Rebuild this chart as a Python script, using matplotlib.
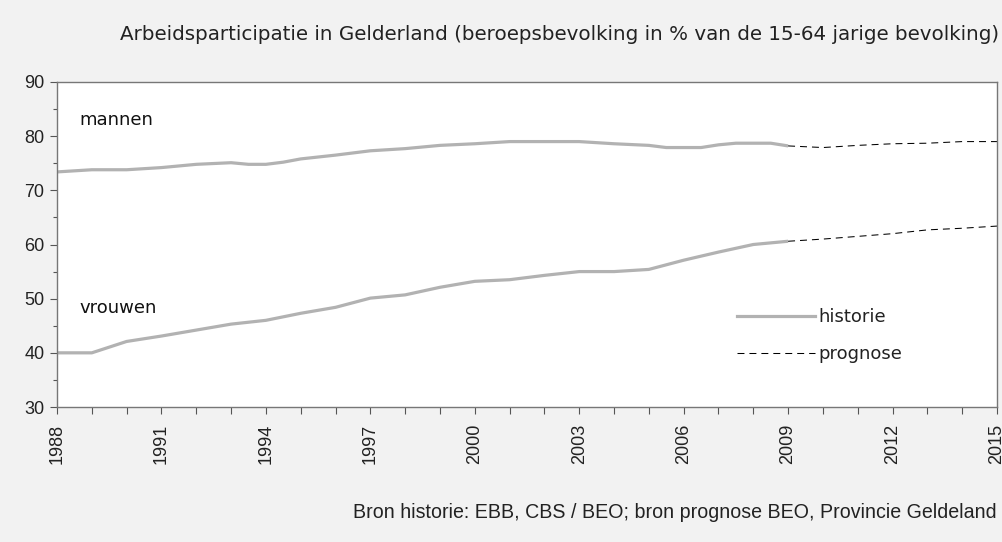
import matplotlib.pyplot as plt
from matplotlib.ticker import FixedLocator, MultipleLocator
from matplotlib.lines import Line2D

plt.rcParams['font.family'] = ['Liberation Sans', 'DejaVu Sans']
plt.rcParams['lines.scale_dashes'] = False

# historie mannen (some half-year points to follow the curve)
men_years = [1988, 1989, 1990, 1991, 1992, 1993, 1993.5, 1994, 1994.5, 1995, 1996,
             1997, 1998, 1999, 2000, 2001, 2002, 2003, 2004, 2005, 2005.5, 2006,
             2006.5, 2007, 2007.5, 2008, 2008.5, 2009]
men_hist = [73.4, 73.8, 73.8, 74.2, 74.8, 75.1, 74.8, 74.8, 75.2, 75.8, 76.5,
            77.3, 77.7, 78.3, 78.6, 79.0, 79.0, 79.0, 78.6, 78.3, 77.9, 77.9,
            77.9, 78.4, 78.7, 78.7, 78.7, 78.2]

women_years = list(range(1988, 2010))
women_hist = [40.0, 40.0, 42.1, 43.1, 44.2, 45.3, 46.0, 47.3, 48.4, 50.1, 50.7,
              52.1, 53.2, 53.5, 54.3, 55.0, 55.0, 55.4, 57.1, 58.6, 60.0, 60.6]

# prognose
prog_years = [2009, 2010, 2011, 2012, 2013, 2014, 2015]
men_prog = [78.2, 77.9, 78.3, 78.6, 78.7, 79.0, 79.0]
women_prog = [60.6, 61.0, 61.5, 62.0, 62.7, 63.0, 63.4]

year_ticks = list(range(1988, 2016, 3))

hist_color = '#b2b2b2'
bg = '#f2f2f2'
wide = ['DejaVu Sans']

fig = plt.figure(figsize=(10.03, 5.42), dpi=100, facecolor=bg)
ax = fig.add_axes([57 / 1003, 1 - 407 / 542, 940 / 1003, 325 / 542])
ax.set_facecolor('white')

ax.plot(men_years, men_hist, color=hist_color, lw=2.3, solid_capstyle='butt')
ax.plot(women_years, women_hist, color=hist_color, lw=2.3, solid_capstyle='butt')
ax.plot(prog_years, men_prog, color='black', lw=0.75, dashes=(5, 3.6))
ax.plot(prog_years, women_prog, color='black', lw=0.75, dashes=(5, 3.6))

ax.set_xlim(1988, 2015)
ax.set_ylim(30, 90)
ax.xaxis.set_major_locator(FixedLocator(year_ticks))
ax.xaxis.set_minor_locator(MultipleLocator(1))
ax.yaxis.set_major_locator(MultipleLocator(10))
ax.yaxis.set_minor_locator(MultipleLocator(5))
ax.tick_params(axis='x', which='both', direction='out', length=5, width=0.8,
               color='#555555', labelsize=13, labelrotation=90, pad=7,
               labelcolor='#222222')
ax.tick_params(axis='y', which='major', direction='out', length=5, width=0.8,
               color='#555555', labelsize=13, pad=4, labelcolor='#222222')
ax.tick_params(axis='y', which='minor', direction='out', length=3, width=0.8,
               color='#555555')
for side in ['left', 'bottom', 'top', 'right']:
    ax.spines[side].set_color('#777777')
    ax.spines[side].set_linewidth(1.0)

ax.text(1988.65, 83, 'mannen', fontsize=13, va='center', color='#111111', family=wide)
ax.text(1988.65, 48.3, 'vrouwen', fontsize=13, va='center', color='#111111', family=wide)

handles = [Line2D([], [], color=hist_color, lw=2.3),
           Line2D([], [], color='black', lw=0.75, dashes=(5, 3.6))]
ax.legend(handles, ['historie', 'prognose'], loc='upper left',
          bbox_to_anchor=(0.706, 0.355), frameon=False,
          prop={'family': wide, 'size': 13},
          handlelength=4.3, handletextpad=0.2, labelspacing=1.05,
          labelcolor='#222222')

fig.text(999 / 1003, 1 - 35 / 542,
         'Arbeidsparticipatie in Gelderland (beroepsbevolking in % van de 15-64 jarige bevolking)',
         ha='right', va='center', fontsize=14.3, color='#222222', family=wide)
fig.text(997 / 1003, 1 - 512 / 542,
         'Bron historie: EBB, CBS / BEO; bron prognose BEO, Provincie Geldeland',
         ha='right', va='center', fontsize=14.1, color='#222222')

fig.savefig('out.png', dpi=100, facecolor=bg)
